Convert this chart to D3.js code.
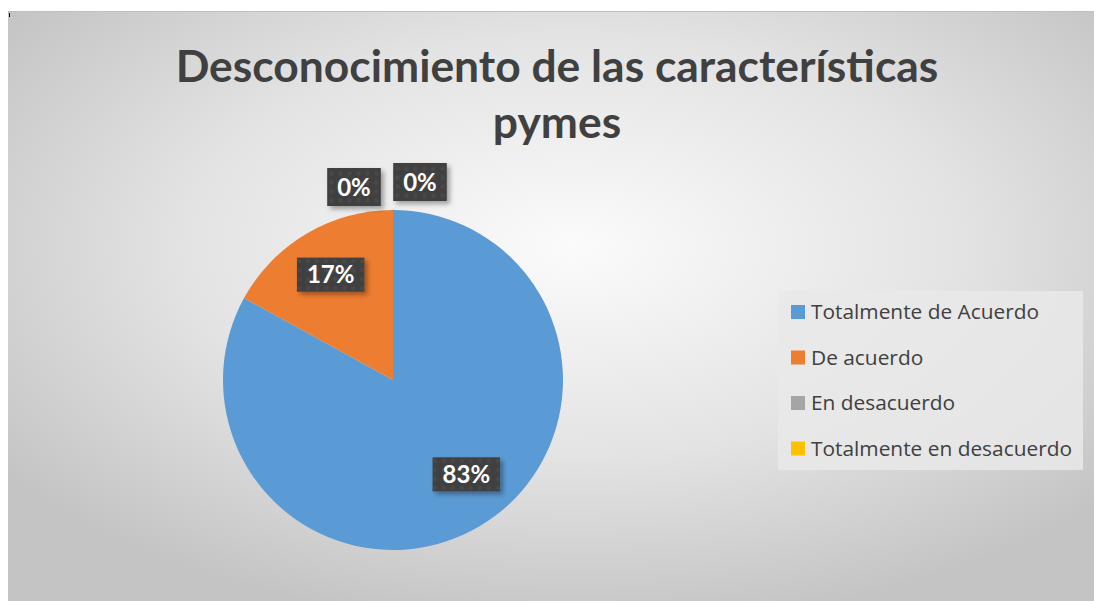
<!doctype html>
<html>
<head>
<meta charset="utf-8">
<script src="https://d3js.org/d3.v7.min.js"></script>
<style>
body { margin: 0; background: #fff; }
text { font-family: Lato, "Open Sans", sans-serif; }
</style>
</head>
<body>
<svg id="chart" width="1094" height="601"></svg>
<script>
// data
var categories = ["Totalmente de Acuerdo", "De acuerdo", "En desacuerdo", "Totalmente en desacuerdo"];
var values = [83, 17, 0, 0];
var colors = ["#5B9BD5", "#ED7D31", "#A5A5A5", "#FFC000"];
var titleLines = ["Desconocimiento de las características", "pymes"];

var svg = d3.select("#chart"),
    W = +svg.attr("width"),
    H = +svg.attr("height");

var defs = svg.append("defs");

// background radial gradient (Excel style)
var grad = defs.append("radialGradient")
    .attr("id", "bg")
    .attr("cx", "52%").attr("cy", "40%").attr("r", "65%");
grad.append("stop").attr("offset", "0%").attr("stop-color", "#fbfbfb");
grad.append("stop").attr("offset", "55%").attr("stop-color", "#e3e3e3");
grad.append("stop").attr("offset", "100%").attr("stop-color", "#c4c4c4");

// dotted texture for the label boxes
var pat = defs.append("pattern")
    .attr("id", "dots")
    .attr("width", 9).attr("height", 9)
    .attr("patternUnits", "userSpaceOnUse");
pat.append("rect").attr("width", 9).attr("height", 9).attr("fill", "#3f3f3f");
pat.append("circle").attr("cx", 4.5).attr("cy", 4.5).attr("r", 2.2).attr("fill", "#494949");

var shadow = defs.append("filter").attr("id", "shadow")
    .attr("x", "-30%").attr("y", "-30%").attr("width", "170%").attr("height", "170%");
shadow.append("feDropShadow")
    .attr("dx", 3).attr("dy", 3).attr("stdDeviation", 2.5)
    .attr("flood-color", "#000").attr("flood-opacity", 0.35);

// chart area
svg.append("rect")
    .attr("x", 8).attr("y", 11)
    .attr("width", W - 8).attr("height", H - 11)
    .attr("fill", "url(#bg)");
svg.append("line")
    .attr("x1", 8).attr("x2", W).attr("y1", 11.5).attr("y2", 11.5)
    .attr("stroke", "#bdbdbd");
svg.append("rect").attr("x", 9).attr("y", 13).attr("width", 1).attr("height", 4).attr("fill", "#000");

// title
var title = svg.append("text")
    .attr("text-anchor", "middle")
    .style("font-weight", "bold")
    .style("font-size", "44px")
    .attr("fill", "#404040");
title.selectAll("tspan").data(titleLines).enter().append("tspan")
    .attr("x", 557)
    .attr("y", function(d, i) { return 82 + i * 56; })
    .text(function(d) { return d; });
// fit first line to the width seen in the picture
var t0 = title.select("tspan").node().getComputedTextLength();
title.style("font-size", (44 * 763 / t0) + "px");

// pie
var cx = 393, cy = 380, r = 170;
var pie = d3.pie().sort(null).value(function(d) { return d; });
var arcs = pie(values);
var arc = d3.arc().innerRadius(0).outerRadius(r);
var labelArc = d3.arc().innerRadius(r * 0.72).outerRadius(r * 0.72);

var g = svg.append("g").attr("transform", "translate(" + cx + "," + cy + ")");
g.selectAll("path.slice")
    .data(arcs)
    .enter().append("path")
    .attr("class", "slice")
    .attr("d", arc)
    .attr("fill", function(d, i) { return colors[i]; });

// labels (small best-fit nudges like Excel does)
var nudge = [[11, -11], [0, 0], [-39, 0], [27, -5]];
var labels = arcs.map(function(d, i) {
    var p;
    if (d.value > 0) {
        p = labelArc.centroid(d);
    } else {
        var a = d.startAngle;
        p = [Math.sin(a) * (r + 23), -Math.cos(a) * (r + 23)];
    }
    return { x: p[0] + nudge[i][0], y: p[1] + nudge[i][1],
             text: Math.round(d.value / d3.sum(values) * 100) + "%" };
});

var lg = g.selectAll("g.lab").data(labels).enter().append("g")
    .attr("class", "lab")
    .attr("transform", function(d) { return "translate(" + d.x + "," + d.y + ")"; });
lg.append("rect").attr("fill", "url(#dots)").attr("filter", "url(#shadow)");
lg.append("text")
    .attr("text-anchor", "middle")
    .attr("dy", "0.36em")
    .style("font-weight", "bold")
    .style("font-size", "24px")
    .attr("fill", "#fff")
    .text(function(d) { return d.text; });
lg.each(function(d) {
    var tw = d3.select(this).select("text").node().getComputedTextLength();
    var bh = d.text === "0%" ? 38 : 34;
    d3.select(this).select("rect")
        .attr("x", -tw / 2 - 10).attr("y", -bh / 2)
        .attr("width", tw + 20).attr("height", bh);
});

// legend
var legend = svg.append("g").attr("transform", "translate(778,291)");
legend.append("rect")
    .attr("width", 305).attr("height", 179)
    .attr("fill", "#e9e9e9").attr("fill-opacity", 0.85);
var item = legend.selectAll("g.item").data(categories).enter().append("g")
    .attr("class", "item")
    .attr("transform", function(d, i) { return "translate(13," + (21 + i * 45.5) + ")"; });
item.append("rect")
    .attr("x", 0).attr("y", -7).attr("width", 14).attr("height", 14)
    .attr("fill", function(d, i) { return colors[i]; });
var ltext = item.append("text")
    .attr("x", 20).attr("dy", "0.35em")
    .style("font-family", "'Open Sans', sans-serif")
    .style("font-size", "20px")
    .attr("fill", "#404040")
    .text(function(d) { return d; });
// fit the longest entry to the width seen in the picture
var lw = ltext.nodes()[3].getComputedTextLength();
ltext.style("font-size", Math.min(22, 20 * 261 / lw) + "px");
</script>
</body>
</html>
